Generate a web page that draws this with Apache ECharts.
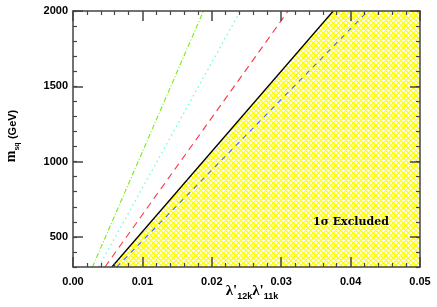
<!DOCTYPE html>
<html><head><meta charset="utf-8">
<script src="https://cdn.jsdelivr.net/npm/echarts@6/dist/echarts.min.js"></script>
<style>html,body{margin:0;padding:0;background:#fff}#c{width:437px;height:307px}</style>
</head><body><div id="c"></div>
<script>
// ---- data ----
const mSq = [300, 2000];                    // GeV, y values of line endpoints
const greenDashDot = [0.0028, 0.0188];      // lambda product at m=300, m=2000
const cyanDotted  = [0.0037, 0.0241];
const redDashed   = [0.0046, 0.0310];
const blackSolid  = [0.0056, 0.0375];
const blueDashed  = [0.0063, 0.0425];
const xTickValues = [0, 0.01, 0.02, 0.03, 0.04, 0.05];
const xTickLabels = ['0.00', '0.01', '0.02', '0.03', '0.04', '0.05'];
const yTickValues = [500, 1000, 1500, 2000];
const yMinorValues = [300,400,500,600,700,800,900,1000,1100,1200,1300,1400,1500,1600,1700,1800,1900,2000];
const excludedLabel = '1σ Excluded';

function pts(xs) { return xs.map((x, i) => [x, mSq[i]]); }

// crosshatch tile
function makeHatch() {
  const p = 5, c = document.createElement('canvas');
  c.width = p; c.height = p;
  const ctx = c.getContext('2d');
  const img = ctx.createImageData(p, p);
  for (let y = 0; y < p; y++) for (let x = 0; x < p; x++) {
    const a = (x + y) % p, b = (x - y + 10 * p) % p;
    const i = (y * p + x) * 4;
    let col = [255, 255, 255];
    if (a === 0 || b === 0) col = [255, 255, 0];
    else if (a === 1 || b === 1) col = [255, 255, 90];
    img.data[i] = col[0]; img.data[i+1] = col[1]; img.data[i+2] = col[2]; img.data[i+3] = 255;
  }
  ctx.putImageData(img, 0, 0);
  return c;
}

const frameColor = '#444';
const labelFont = { color: '#000', fontFamily: 'Liberation Sans', fontWeight: 'bold', fontSize: 11 };

function xAxisDef(pos, show) {
  return {
    type: 'value', position: pos, min: 0, max: 0.05, interval: 0.01, z: 5,
    axisLine: { show: true, onZero: false, lineStyle: { color: frameColor, width: 1.5 } },
    axisTick: { show: true, inside: true, length: 10, lineStyle: { color: frameColor, width: 1.5 } },
    minorTick: { show: true, splitNumber: 5, length: 4, lineStyle: { color: frameColor, width: 1.2 } },
    splitLine: { show: false },
    axisLabel: show ? Object.assign({ show: true, margin: 9,
      formatter: v => { const k = xTickValues.findIndex(t => Math.abs(t - v) < 1e-9); return k >= 0 ? xTickLabels[k] : ''; } }, labelFont) : { show: false }
  };
}
function yAxisDef(pos, major, show) {
  return {
    type: 'value', position: pos, min: 300, max: 2000, z: 5,
    axisLine: { show: major, onZero: false, lineStyle: { color: frameColor, width: 1.5 } },
    axisTick: { show: true, inside: true, length: major ? 10 : 4,
      customValues: major ? yTickValues : yMinorValues, lineStyle: { color: frameColor, width: major ? 1.5 : 1.2 } },
    splitLine: { show: false },
    axisLabel: show ? Object.assign({ show: true, margin: 5, customValues: yTickValues, formatter: v => String(v) }, labelFont) : { show: false }
  };
}

const chart = echarts.init(document.getElementById('c'), null, { renderer: 'canvas' });
chart.setOption({
  animation: false,
  backgroundColor: '#fff',
  grid: { left: 73, right: 17, top: 11, bottom: 40 },
  xAxis: [xAxisDef('bottom', true), xAxisDef('top', false)],
  yAxis: [yAxisDef('left', true, true), yAxisDef('left', false, false),
          yAxisDef('right', true, false), yAxisDef('right', false, false)],
  series: [
    { type: 'line', name: 'excluded', data: pts(blackSolid).concat([[0.05, 2000]]),
      symbol: 'none', lineStyle: { width: 0 }, z: 1,
      areaStyle: { origin: 'start', opacity: 1, color: { image: makeHatch(), repeat: 'repeat' } } },
    { type: 'line', data: pts(greenDashDot), symbol: 'none', z: 3,
      lineStyle: { color: '#77ee11', width: 1.1, type: [5, 2, 1, 2] } },
    { type: 'line', data: pts(cyanDotted), symbol: 'none', z: 3,
      lineStyle: { color: '#66ffdd', width: 1.3, type: [1.5, 3.5] } },
    { type: 'line', data: pts(redDashed), symbol: 'none', z: 3,
      lineStyle: { color: '#ff3344', width: 1.1, type: [7, 5] } },
    { type: 'line', data: pts(blackSolid), symbol: 'none', z: 4,
      lineStyle: { color: '#000', width: 1.3 } },
    { type: 'line', data: pts(blueDashed), symbol: 'none', z: 3,
      lineStyle: { color: '#4466ff', width: 1.1, type: [5, 5] } }
  ],
  graphic: [
    { type: 'text', x: 351, y: 222, z: 10,
      style: { text: excludedLabel, fill: '#000', font: 'bold 11px "DejaVu Serif"', align: 'center', verticalAlign: 'middle' } },
    { type: 'text', x: 252, y: 291, z: 10,
      style: { text: "{l|λ'}{s|12k}{l|λ'}{s|11k}", align: 'center', verticalAlign: 'middle',
        rich: { l: { font: 'bold 15px "Liberation Serif"', fill: '#000', verticalAlign: 'bottom' },
                s: { font: 'bold 9px "Liberation Sans"', fill: '#000', verticalAlign: 'bottom', padding: [0, 0, -3, 0] } } } },
    { type: 'text', x: 11, y: 136, rotation: Math.PI / 2, z: 10,
      style: { text: "{m|m}{s|sq} {g|(GeV)}", align: 'center', verticalAlign: 'middle',
        rich: { m: { font: 'bold 14px "Liberation Serif"', fill: '#000', verticalAlign: 'bottom' },
                s: { font: 'bold 7px "Liberation Sans"', fill: '#000', verticalAlign: 'bottom', padding: [0, 0, -3, 0] },
                g: { font: 'bold 11px "Liberation Sans"', fill: '#000', verticalAlign: 'bottom' } } } }
  ]
});
</script></body></html>
